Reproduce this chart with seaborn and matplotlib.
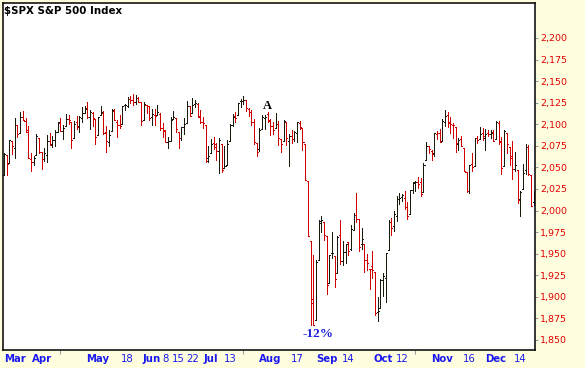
import numpy as np
import pandas as pd
import matplotlib
matplotlib.use("Agg")
import matplotlib.pyplot as plt
import seaborn as sns

# ---------------- data (S&P 500 daily OHLC, 2015) ----------------
mar_days = [12, 13, 16, 17, 18, 19, 20, 23, 24, 25, 26, 27, 30, 31]
apr_days = [1, 2, 6, 7, 8, 9, 10, 13, 14, 15, 16, 17, 20, 21, 22, 23, 24, 27, 28, 29, 30]
may_days = [1, 4, 5, 6, 7, 8, 11, 12, 13, 14, 15, 18, 19, 20, 21, 22, 26, 27, 28, 29]
jun_days = [1, 2, 3, 4, 5, 8, 9, 10, 11, 12, 15, 16, 17, 18, 19, 22, 23, 24, 25, 26, 29, 30]
jul_days = [1, 2, 6, 7, 8, 9, 10, 13, 14, 15, 16, 17, 20, 21, 22, 23, 24, 27, 28, 29, 30, 31]
aug_days = [3, 4, 5, 6, 7, 10, 11, 12, 13, 14, 17, 18, 19, 20, 21, 24, 25, 26, 27, 28, 31]
sep_days = [1, 2, 3, 4, 8, 9, 10, 11, 14, 15, 16, 17, 18, 21, 22, 23, 24, 25, 28, 29, 30]
oct_days = [1, 2, 5, 6, 7, 8, 9, 12, 13, 14, 15, 16, 19, 20, 21, 22, 23, 26, 27, 28, 29, 30]
nov_days = [2, 3, 4, 5, 6, 9, 10, 11, 12, 13, 16, 17, 18, 19, 20, 23, 24, 25, 27, 30]
dec_days = [1, 2, 3, 4, 7, 8, 9, 10, 11, 14, 15, 16, 17, 18, 21]

prev_close = 2040.24  # close of the session before the first bar

open_ = [
    2041.10, 2064.56, 2055.35, 2080.59, 2072.84, 2098.69, 2090.32, 2107.99, 2103.94, 2093.10, 2059.94, 2055.78, 2064.11, 2084.05,
    2067.63, 2060.03, 2064.87, 2080.79, 2076.94, 2081.29, 2091.51, 2102.03, 2092.28, 2097.82, 2105.96, 2102.58, 2084.11, 2102.82, 2098.27, 2107.21, 2112.80, 2119.29, 2108.35, 2112.49, 2105.52,
    2087.38, 2110.23, 2112.63, 2091.26, 2079.96, 2092.13, 2115.56, 2102.87, 2099.62, 2100.43, 2122.07, 2121.30, 2129.45, 2127.79, 2125.55, 2130.36, 2125.34, 2105.13, 2122.27, 2120.66,
    2108.64, 2110.41, 2110.64, 2112.35, 2095.09, 2092.34, 2079.07, 2081.12, 2106.24, 2107.43, 2091.34, 2084.26, 2097.40, 2101.58, 2121.06, 2112.50, 2123.16, 2123.65, 2109.96, 2102.62, 2098.63, 2061.19,
    2067.00, 2078.03, 2073.95, 2069.52, 2077.66, 2049.73, 2052.74, 2080.03, 2099.72, 2109.01, 2110.55, 2126.80, 2126.85, 2127.55, 2118.21, 2114.16, 2102.24, 2078.19, 2070.75, 2094.70, 2106.78, 2111.60,
    2104.49, 2097.68, 2095.27, 2100.75, 2082.61, 2080.98, 2102.66, 2081.10, 2086.19, 2083.15, 2089.70, 2101.99, 2095.69, 2076.61, 2034.08, 1965.15, 1898.08, 1872.75, 1942.77, 1986.06, 1986.73,
    1970.09, 1916.52, 1950.79, 1947.76, 1927.30, 1971.45, 1941.59, 1951.45, 1963.06, 1955.10, 1978.02, 1995.33, 1989.66, 1960.84, 1961.39, 1943.24, 1932.24, 1935.93, 1929.18, 1881.90, 1887.14,
    1919.65, 1921.77, 1954.33, 1986.63, 1982.34, 1994.01, 2013.73, 2015.65, 2015.00, 2003.66, 1996.47, 2024.37, 2031.73, 2033.13, 2033.47, 2021.88, 2058.19, 2075.08, 2068.75, 2066.48, 2088.35, 2090.00,
    2080.76, 2102.63, 2110.60, 2101.68, 2098.60, 2096.56, 2077.19, 2083.41, 2072.29, 2044.64, 2022.08, 2053.67, 2051.99, 2083.70, 2082.82, 2089.41, 2084.42, 2089.30, 2088.82, 2090.95,
    2082.93, 2101.71, 2080.71, 2051.24, 2090.42, 2073.39, 2061.17, 2047.93, 2047.27, 2013.37, 2025.55, 2046.50, 2073.76, 2040.81, 2010.27,
]
high = [
    2066.41, 2064.56, 2081.41, 2080.59, 2106.85, 2098.69, 2113.92, 2114.86, 2107.63, 2097.43, 2067.15, 2062.83, 2088.97, 2084.05,
    2067.63, 2072.17, 2086.99, 2089.81, 2086.69, 2093.31, 2102.61, 2107.65, 2098.62, 2111.91, 2111.30, 2102.58, 2103.94, 2109.64, 2109.98, 2120.49, 2120.92, 2125.92, 2116.04, 2113.65, 2105.52,
    2108.41, 2120.95, 2115.24, 2098.42, 2092.90, 2117.66, 2117.69, 2105.06, 2110.19, 2121.45, 2123.89, 2131.78, 2133.02, 2134.72, 2134.28, 2132.15, 2125.34, 2126.22, 2122.27, 2120.66,
    2117.61, 2117.59, 2121.92, 2112.89, 2100.99, 2093.01, 2085.62, 2108.50, 2115.02, 2107.43, 2091.34, 2097.40, 2106.79, 2126.65, 2121.64, 2129.87, 2128.03, 2125.10, 2116.04, 2108.92, 2098.63, 2074.28,
    2082.78, 2085.06, 2078.61, 2083.74, 2077.66, 2074.28, 2081.31, 2100.67, 2111.98, 2114.14, 2124.42, 2128.91, 2132.82, 2128.49, 2118.51, 2116.87, 2106.01, 2078.19, 2095.60, 2110.60, 2110.48, 2114.24,
    2105.70, 2102.51, 2112.66, 2103.32, 2082.61, 2105.35, 2102.66, 2089.06, 2092.93, 2092.45, 2102.87, 2103.47, 2096.17, 2076.61, 2034.08, 1965.15, 1948.04, 1943.09, 1989.60, 1993.48, 1986.73,
    1970.09, 1948.91, 1975.01, 1947.76, 1970.42, 1988.63, 1965.29, 1961.05, 1963.06, 1983.19, 1997.26, 2020.86, 1989.66, 1979.64, 1961.39, 1949.52, 1932.24, 1952.89, 1929.18, 1899.48, 1920.53,
    1927.21, 1951.36, 1989.17, 1991.62, 1999.31, 2016.50, 2020.13, 2018.66, 2022.34, 2009.56, 2024.15, 2033.54, 2034.45, 2039.12, 2037.97, 2055.20, 2079.74, 2075.14, 2070.37, 2090.35, 2092.52, 2094.32,
    2106.20, 2116.48, 2114.59, 2108.78, 2101.91, 2096.56, 2083.67, 2086.94, 2072.29, 2044.64, 2053.22, 2066.69, 2084.07, 2086.74, 2097.06, 2095.61, 2094.12, 2093.00, 2093.29, 2093.81,
    2103.37, 2104.27, 2085.00, 2093.84, 2090.42, 2073.85, 2080.33, 2067.65, 2047.27, 2022.92, 2053.87, 2076.72, 2076.37, 2040.81, 2022.90,
]
low = [
    2041.10, 2041.17, 2055.35, 2065.08, 2061.23, 2085.56, 2090.32, 2104.42, 2091.50, 2061.05, 2045.50, 2052.96, 2064.11, 2067.04,
    2048.38, 2057.32, 2056.52, 2076.10, 2073.30, 2074.29, 2091.51, 2092.33, 2083.24, 2097.82, 2100.02, 2072.37, 2084.11, 2094.38, 2091.05, 2103.19, 2112.80, 2107.04, 2094.89, 2097.41, 2077.59,
    2087.38, 2110.23, 2088.46, 2067.93, 2074.99, 2092.13, 2104.58, 2085.57, 2096.04, 2100.43, 2116.81, 2120.01, 2124.50, 2122.59, 2122.95, 2126.06, 2099.18, 2105.13, 2112.86, 2104.89,
    2099.14, 2099.14, 2110.64, 2093.23, 2085.67, 2079.11, 2072.14, 2081.12, 2106.24, 2091.33, 2072.49, 2082.10, 2088.86, 2101.58, 2109.45, 2112.50, 2119.89, 2108.58, 2101.78, 2095.38, 2056.64, 2056.32,
    2067.00, 2071.02, 2058.40, 2044.02, 2044.66, 2049.73, 2052.74, 2080.03, 2098.18, 2102.49, 2110.55, 2119.88, 2123.66, 2115.40, 2110.00, 2098.63, 2077.09, 2063.52, 2069.09, 2094.08, 2094.97, 2102.07,
    2087.31, 2088.60, 2095.27, 2075.53, 2067.91, 2080.98, 2076.49, 2052.09, 2078.26, 2080.61, 2079.30, 2094.14, 2070.53, 2035.73, 1970.89, 1867.01, 1867.08, 1872.75, 1942.77, 1975.19, 1965.98,
    1903.07, 1916.52, 1944.72, 1911.21, 1927.30, 1937.88, 1937.19, 1939.19, 1948.27, 1954.30, 1977.93, 1986.73, 1953.45, 1955.80, 1929.22, 1930.85, 1908.92, 1921.50, 1879.21, 1871.91, 1887.14,
    1900.70, 1893.70, 1954.33, 1971.99, 1976.44, 1987.53, 2007.61, 2010.55, 2001.78, 1990.73, 1996.47, 2020.46, 2022.31, 2026.61, 2017.22, 2021.88, 2058.19, 2066.53, 2058.84, 2063.11, 2082.63, 2079.34,
    2080.76, 2097.51, 2096.98, 2090.41, 2083.74, 2068.24, 2069.91, 2074.85, 2045.66, 2022.02, 2019.94, 2045.90, 2051.99, 2078.76, 2082.82, 2081.39, 2070.29, 2086.30, 2084.13, 2080.41,
    2082.93, 2077.11, 2042.35, 2051.24, 2066.78, 2052.32, 2036.53, 2045.67, 2008.80, 1993.26, 2025.55, 2042.43, 2041.66, 2005.33, 2005.93,
]
close = [
    2065.95, 2053.40, 2081.19, 2074.28, 2099.50, 2089.27, 2108.10, 2104.42, 2091.50, 2061.05, 2056.15, 2061.02, 2086.24, 2067.89,
    2059.69, 2066.96, 2080.62, 2076.33, 2081.90, 2091.18, 2102.06, 2092.43, 2095.84, 2106.63, 2104.99, 2081.18, 2100.40, 2097.29, 2107.96, 2112.93, 2117.69, 2108.92, 2114.76, 2106.85, 2085.51,
    2108.29, 2114.49, 2089.46, 2080.15, 2088.00, 2116.10, 2105.33, 2099.12, 2098.48, 2121.10, 2122.73, 2129.20, 2127.83, 2125.85, 2130.82, 2126.06, 2104.20, 2123.48, 2120.79, 2107.39,
    2111.73, 2109.60, 2114.07, 2095.84, 2092.83, 2079.28, 2080.15, 2105.20, 2108.86, 2094.11, 2084.43, 2096.29, 2100.44, 2121.24, 2109.99, 2122.85, 2124.20, 2108.58, 2102.31, 2101.49, 2057.64, 2063.11,
    2077.42, 2076.78, 2068.76, 2081.34, 2046.68, 2051.31, 2076.62, 2099.60, 2108.95, 2107.40, 2124.29, 2126.64, 2128.28, 2119.21, 2114.15, 2102.15, 2079.65, 2067.64, 2093.25, 2108.57, 2108.63, 2103.84,
    2098.04, 2093.32, 2099.84, 2083.56, 2077.57, 2104.18, 2084.07, 2086.05, 2083.39, 2091.54, 2102.44, 2096.92, 2079.61, 2035.73, 1970.89, 1893.21, 1867.61, 1940.51, 1987.66, 1988.87, 1972.18,
    1913.85, 1948.86, 1951.13, 1921.22, 1969.41, 1942.04, 1952.29, 1961.05, 1953.03, 1978.09, 1995.31, 1990.20, 1958.03, 1966.97, 1942.74, 1938.76, 1932.24, 1931.34, 1881.77, 1884.09, 1920.03,
    1923.82, 1951.36, 1987.05, 1979.92, 1995.83, 2013.43, 2014.89, 2017.46, 2003.69, 1994.24, 2023.86, 2033.11, 2033.66, 2030.77, 2018.94, 2052.51, 2075.15, 2071.18, 2065.89, 2090.35, 2089.41, 2079.36,
    2104.05, 2109.79, 2102.31, 2099.93, 2099.20, 2078.58, 2081.72, 2075.00, 2045.97, 2023.04, 2053.19, 2050.44, 2083.58, 2081.24, 2089.17, 2086.59, 2089.14, 2088.87, 2090.11, 2080.41,
    2102.63, 2079.51, 2049.62, 2091.69, 2077.07, 2063.59, 2047.62, 2052.23, 2012.37, 2021.94, 2043.41, 2073.07, 2041.89, 2005.55, 2021.15,
]

tick_dates = ["03-12", "04-01", "05-01", "05-18", "06-01", "06-08", "06-15", "06-22",
              "07-01", "07-13", "08-03", "08-17", "09-01", "09-14", "10-01", "10-12",
              "11-02", "11-16", "12-01", "12-14"]
tick_labels = ["Mar", "Apr", "May", "18", "Jun", "8", "15", "22", "Jul", "13", "Aug",
               "17", "Sep", "14", "Oct", "12", "Nov", "16", "Dec", "14"]
minor_tick_dates = ["04-13", "07-20", "10-19"]
y_ticks = [1850, 1875, 1900, 1925, 1950, 1975, 2000, 2025, 2050, 2075, 2100, 2125, 2150, 2175, 2200]

title = r"\$SPX S&P 500 Index"
note_a = ("07-31", 2121, "A")
note_drop = ("08-26", 1857, "-12%")

# ---------------- build frame ----------------
months = [(3, mar_days), (4, apr_days), (5, may_days), (6, jun_days), (7, jul_days),
          (8, aug_days), (9, sep_days), (10, oct_days), (11, nov_days), (12, dec_days)]
dates = [f"{m:02d}-{d:02d}" for m, ds in months for d in ds]
pos = {d: i for i, d in enumerate(dates)}
n = len(dates)
prev = [prev_close] + close[:-1]
direction = ["up" if c >= p else "down" for c, p in zip(close, prev)]

tk = 0.38
rows = []
for i in range(n):
    d = direction[i]
    rows.append((i, low[i], f"hl{i}", d))
    rows.append((i, high[i], f"hl{i}", d))
    rows.append((i - tk, open_[i], f"o{i}", d))
    rows.append((i, open_[i], f"o{i}", d))
    rows.append((i, close[i], f"c{i}", d))
    rows.append((i + tk, close[i], f"c{i}", d))
df = pd.DataFrame(rows, columns=["x", "price", "seg", "dir"])

# ---------------- plot ----------------
sns.set_theme(style="white")
plt.rcParams["font.family"] = ["DejaVu Sans"]

W, H = 585, 368
fig = plt.figure(figsize=(W / 100, H / 100), dpi=100, facecolor="#FFFFE0")
ax = fig.add_axes([3 / W, 18 / H, 532 / W, 347.5 / H])
ax.set_facecolor("white")

sns.lineplot(data=df, x="x", y="price", units="seg", estimator=None, sort=False,
             hue="dir", palette={"up": "#1A1A0A", "down": "#D00000"},
             legend=False, linewidth=0.6, antialiased=False,
             solid_capstyle="butt", ax=ax)

ax.set_xlim(-0.372, 197.47)
ax.set_ylim(1838.4, 2241.1)
ax.set_xlabel("")
ax.set_ylabel("")

for s in ax.spines.values():
    s.set_visible(True)
    s.set_color("black")
    s.set_linewidth(1.1)

# y axis on right
ax.yaxis.tick_right()
ax.set_yticks(y_ticks)
ax.set_yticklabels([f"{v:,}" for v in y_ticks])
ax.tick_params(axis="y", which="major", direction="out", length=2.5, width=0.8,
               color="#999999", labelcolor="#E00000", labelsize=6.8, pad=1.2,
               left=False, right=True)

# x axis
ax.set_xticks([pos[d] for d in tick_dates])
ax.set_xticklabels(tick_labels)
ax.set_xticks([pos[d] for d in minor_tick_dates], minor=True)
ax.tick_params(axis="x", which="major", length=0, pad=3, labelcolor="#1A1AEE", labelsize=7.3)
ax.tick_params(axis="x", which="minor", bottom=True, length=3, width=0.8, color="#999999", direction="out")
for lab in ax.get_xticklabels():
    if not lab.get_text().isdigit():
        lab.set_fontweight("bold")
ax.get_xticklabels()[0].set_horizontalalignment("left")

ax.text(1.5 / 532, 1 - 3 / 347.5, title, transform=ax.transAxes, ha="left", va="top",
        fontsize=7.4, fontweight="bold", color="black")

ax.text(pos[note_a[0]], note_a[1], note_a[2], ha="center", va="center",
        fontsize=9, fontweight="bold", family="Liberation Serif", color="black")
ax.text(pos[note_drop[0]] + 0.8, note_drop[1], note_drop[2], ha="center", va="center",
        fontsize=9.5, fontweight="bold", family="Liberation Serif", color="#1C1CE0")

fig.savefig("out.png", dpi=100, facecolor=fig.get_facecolor())
